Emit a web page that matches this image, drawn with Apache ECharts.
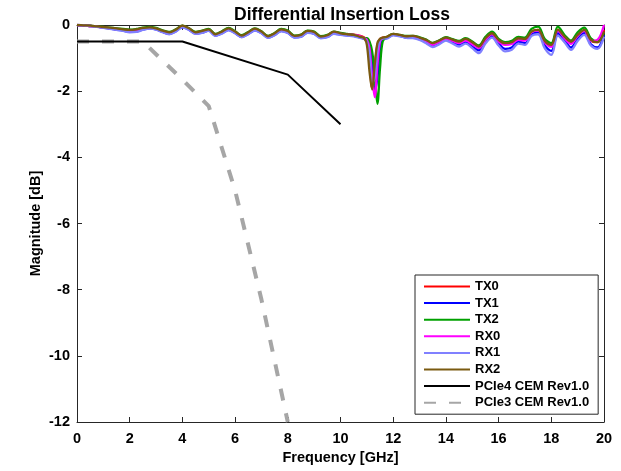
<!DOCTYPE html>
<html>
<head>
<meta charset="utf-8">
<script src="https://cdn.jsdelivr.net/npm/echarts@6/dist/echarts.min.js"></script>
<style>html,body{margin:0;padding:0;background:#fff}#c{width:621px;height:471px}</style>
</head>
<body>
<div id="c"></div>
<script>
const freq = [0,0.25,0.5,0.75,1,1.25,1.5,1.75,2,2.25,2.5,2.75,3,3.25,3.5,3.75,4,4.25,4.5,4.75,5,5.25,5.5,5.75,6,6.25,6.5,6.75,7,7.25,7.5,7.75,8,8.25,8.5,8.75,9,9.25,9.5,9.75,10,10.25,10.5,10.75,
  10.9,11.0,11.1,11.2,11.3,11.4,11.5,11.6,
  11.75,12,12.25,12.5,12.75,13,13.25,13.5,13.75,14,14.25,14.5,14.75,15,15.25,15.5,15.75,16,16.25,16.5,16.75,17,17.25,17.5,17.75,18,18.25,18.5,18.75,19,19.25,19.5,19.75,20];

const tx0 = [0,-0.01,-0.03,-0.05,-0.07,-0.1,-0.13,-0.16,-0.2,-0.18,-0.12,-0.08,-0.12,-0.2,-0.25,-0.16,-0.03,-0.12,-0.24,-0.2,-0.15,-0.3,-0.22,-0.12,-0.22,-0.34,-0.24,-0.13,-0.22,-0.36,-0.27,-0.15,-0.2,-0.35,-0.32,-0.2,-0.23,-0.37,-0.33,-0.22,-0.26,-0.28,-0.29,-0.33,
  -0.38,-0.45,-1.0,-1.9,-1.3,-0.6,-0.42,-0.38,
  -0.37,-0.28,-0.31,-0.35,-0.35,-0.4,-0.47,-0.57,-0.49,-0.4,-0.46,-0.52,-0.45,-0.55,-0.68,-0.43,-0.27,-0.47,-0.58,-0.55,-0.43,-0.45,-0.2,-0.15,-0.5,-0.63,-0.16,-0.37,-0.53,-0.32,-0.17,-0.47,-0.52,-0.15];

const tx1 = [0,-0.01,-0.03,-0.05,-0.08,-0.11,-0.14,-0.17,-0.21,-0.2,-0.14,-0.1,-0.13,-0.21,-0.27,-0.19,-0.06,-0.14,-0.26,-0.23,-0.17,-0.32,-0.25,-0.15,-0.24,-0.36,-0.27,-0.16,-0.24,-0.38,-0.3,-0.18,-0.23,-0.37,-0.35,-0.23,-0.26,-0.39,-0.36,-0.26,-0.29,-0.31,-0.33,-0.38,
  -0.42,-0.44,-0.6,-1.2,-2.0,-1.6,-0.7,-0.44,
  -0.4,-0.3,-0.33,-0.38,-0.38,-0.43,-0.52,-0.63,-0.55,-0.44,-0.52,-0.6,-0.52,-0.65,-0.77,-0.5,-0.32,-0.55,-0.72,-0.68,-0.5,-0.55,-0.28,-0.22,-0.62,-0.78,-0.25,-0.46,-0.68,-0.42,-0.25,-0.58,-0.68,-0.3];

const tx2 = [0,-0.01,-0.02,-0.04,-0.06,-0.08,-0.1,-0.12,-0.14,-0.12,-0.08,-0.06,-0.09,-0.16,-0.21,-0.13,-0.02,-0.1,-0.21,-0.17,-0.12,-0.27,-0.19,-0.09,-0.19,-0.31,-0.21,-0.1,-0.19,-0.33,-0.24,-0.12,-0.17,-0.32,-0.29,-0.17,-0.2,-0.34,-0.3,-0.2,-0.24,-0.27,-0.3,-0.35,
  -0.4,-0.4,-0.5,-0.8,-1.5,-2.38,-1.3,-0.5,
  -0.37,-0.27,-0.3,-0.33,-0.33,-0.37,-0.44,-0.54,-0.46,-0.37,-0.43,-0.48,-0.4,-0.5,-0.62,-0.36,-0.2,-0.42,-0.52,-0.48,-0.36,-0.38,-0.12,-0.05,-0.42,-0.55,-0.05,-0.3,-0.47,-0.22,-0.08,-0.4,-0.5,-0.25];

const rx0 = [0,-0.01,-0.03,-0.05,-0.08,-0.1,-0.13,-0.16,-0.2,-0.19,-0.13,-0.09,-0.12,-0.2,-0.26,-0.17,-0.04,-0.13,-0.25,-0.21,-0.16,-0.31,-0.23,-0.13,-0.23,-0.35,-0.25,-0.14,-0.23,-0.37,-0.28,-0.16,-0.21,-0.36,-0.33,-0.21,-0.24,-0.38,-0.34,-0.23,-0.27,-0.29,-0.3,-0.34,
  -0.4,-0.45,-0.7,-1.6,-2.18,-1.2,-0.5,-0.4,
  -0.38,-0.29,-0.32,-0.36,-0.36,-0.41,-0.49,-0.6,-0.51,-0.42,-0.48,-0.55,-0.47,-0.58,-0.7,-0.45,-0.28,-0.5,-0.6,-0.57,-0.45,-0.47,-0.22,-0.17,-0.52,-0.66,-0.18,-0.4,-0.57,-0.33,-0.18,-0.48,-0.45,0.0];

const rx1 = [0,-0.01,-0.03,-0.06,-0.09,-0.12,-0.15,-0.18,-0.22,-0.21,-0.15,-0.11,-0.14,-0.22,-0.28,-0.2,-0.07,-0.15,-0.27,-0.24,-0.18,-0.33,-0.26,-0.16,-0.25,-0.37,-0.28,-0.17,-0.25,-0.39,-0.31,-0.19,-0.24,-0.38,-0.36,-0.24,-0.27,-0.4,-0.37,-0.27,-0.3,-0.32,-0.34,-0.39,
  -0.42,-0.5,-0.9,-1.75,-1.6,-0.8,-0.45,-0.4,
  -0.41,-0.31,-0.34,-0.39,-0.4,-0.45,-0.55,-0.67,-0.58,-0.47,-0.56,-0.65,-0.56,-0.7,-0.85,-0.56,-0.38,-0.62,-0.8,-0.75,-0.56,-0.6,-0.33,-0.28,-0.7,-0.9,-0.32,-0.52,-0.75,-0.48,-0.3,-0.62,-0.72,-0.35];

const rx2 = [0,-0.01,-0.02,-0.04,-0.06,-0.08,-0.1,-0.13,-0.15,-0.13,-0.09,-0.07,-0.1,-0.17,-0.22,-0.14,-0.02,-0.1,-0.22,-0.18,-0.13,-0.28,-0.2,-0.1,-0.2,-0.32,-0.22,-0.11,-0.2,-0.34,-0.25,-0.13,-0.18,-0.33,-0.3,-0.18,-0.21,-0.35,-0.31,-0.2,-0.25,-0.28,-0.3,-0.36,
  -0.4,-0.6,-1.4,-1.95,-1.2,-0.55,-0.42,-0.38,
  -0.36,-0.27,-0.3,-0.34,-0.33,-0.38,-0.45,-0.55,-0.47,-0.38,-0.44,-0.5,-0.42,-0.52,-0.65,-0.4,-0.25,-0.45,-0.55,-0.52,-0.4,-0.42,-0.2,-0.15,-0.48,-0.6,-0.14,-0.35,-0.5,-0.3,-0.15,-0.45,-0.52,-0.2];

const pcie4Freq = [0,4,8,10];
const pcie4Mag  = [-0.5,-0.5,-1.5,-3.0];
const pcie3Freq = [0,2.5,4,5,6,7,8];
const pcie3Mag  = [-0.5,-0.5,-1.65,-2.45,-5.0,-8.3,-12];

const seriesNames = ['TX0','TX1','TX2','RX0','RX1','RX2','PCIe4 CEM Rev1.0','PCIe3 CEM Rev1.0'];
const seriesColors = ['#ff0000','#0000ff','#00a000','#ff00ff','#8080ff','#7a5a10','#000000','#a6a6a6'];

const FONT = 'Arial, "Liberation Sans", sans-serif';
const pair = (xs, ys) => xs.map((x, i) => [x, ys[i]]);

const measured = [tx0, tx1, tx2, rx0, rx1, rx2];
const series = measured.map((arr, i) => ({
  name: seriesNames[i], type: 'line', xAxisIndex: 0, yAxisIndex: 0,
  data: pair(freq, arr), showSymbol: false, symbol: 'none', smooth: 0.35,
  lineStyle: { color: seriesColors[i], width: 2.3 }, itemStyle: { color: seriesColors[i] },
  animation: false, z: 3 + i
}));
series.push({
  name: seriesNames[6], type: 'line', data: pair(pcie4Freq, pcie4Mag), symbol: 'none',
  lineStyle: { color: seriesColors[6], width: 2 }, itemStyle: { color: seriesColors[6] }, animation: false, z: 2
});
series.push({
  name: seriesNames[7], type: 'line', data: pair(pcie3Freq, pcie3Mag), symbol: 'none',
  lineStyle: { color: seriesColors[7], width: 4, type: [12, 13] }, itemStyle: { color: seriesColors[7] }, animation: false, z: 1
});

const axisCommon = {
  min: 0, max: 20, interval: 2, type: 'value',
  axisLine: { show: true, onZero: false, lineStyle: { color: '#262626', width: 1 } },
  axisTick: { show: true, inside: true, length: 5, lineStyle: { color: '#262626' } },
  splitLine: { show: false }
};

const chart = echarts.init(document.getElementById('c'), null, { renderer: 'canvas' });
chart.setOption({
  backgroundColor: '#ffffff',
  animation: false,
  title: {
    text: 'Differential Insertion Loss', left: 337, top: 1, textAlign: 'center',
    textStyle: { fontFamily: FONT, fontWeight: 'bold', fontSize: 17.5, color: '#000' }
  },
  grid: { left: 77, right: 17, top: 25, bottom: 49, containLabel: false },
  legend: {
    data: seriesNames, orient: 'vertical', left: 415, top: 275,
    itemWidth: 46, itemHeight: 10, itemGap: 3.6,
    padding: [5, 9, 5, 8], borderColor: '#262626', borderWidth: 1, backgroundColor: '#fff',
    itemStyle: { opacity: 0 },
    textStyle: { fontFamily: FONT, fontWeight: 'bold', fontSize: 13, color: '#000', lineHeight: 13 }
  },
  xAxis: [
    Object.assign({}, axisCommon, {
      position: 'bottom', name: 'Frequency [GHz]', nameLocation: 'middle', nameGap: 28,
      nameTextStyle: { fontFamily: FONT, fontWeight: 'bold', fontSize: 14.5, color: '#000' },
      axisLabel: { fontFamily: FONT, fontWeight: 'bold', fontSize: 14.5, color: '#000', margin: 9 }
    }),
    Object.assign({}, axisCommon, { position: 'top', axisLabel: { show: false } })
  ],
  yAxis: [
    Object.assign({}, axisCommon, {
      min: -12, max: 0, interval: 2, position: 'left',
      name: 'Magnitude [dB]', nameLocation: 'middle', nameGap: 34, nameMoveOverlap: false,
      nameTextStyle: { fontFamily: FONT, fontWeight: 'bold', fontSize: 14.5, color: '#000' },
      axisLabel: { fontFamily: FONT, fontWeight: 'bold', fontSize: 14.5, color: '#000', margin: 7 }
    }),
    Object.assign({}, axisCommon, { min: -12, max: 0, interval: 2, position: 'right', axisLabel: { show: false } })
  ],
  series: series
});
</script>
</body>
</html>
